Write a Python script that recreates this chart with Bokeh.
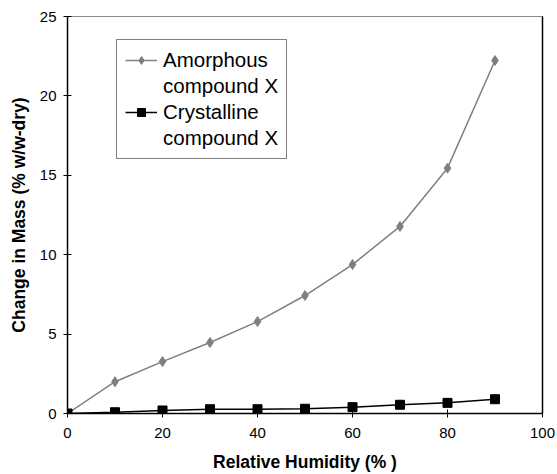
from bokeh.plotting import figure
from bokeh.models import Range1d, LinearAxis, FixedTicker, Legend, LegendItem
from bokeh.embed import file_html
from bokeh.resources import INLINE

humidity = [0, 10, 20, 30, 40, 50, 60, 70, 80, 90]
amorphous = [0.0, 2.0, 3.27, 4.47, 5.79, 7.43, 9.38, 11.78, 15.45, 22.23]
crystalline = [0.0, 0.08, 0.19, 0.27, 0.27, 0.3, 0.4, 0.55, 0.67, 0.9]
x_ticks = [0, 20, 40, 60, 80, 100]
y_ticks = [0, 5, 10, 15, 20, 25]

FONT = "Liberation Sans"

p = figure(width=557, height=474, output_backend="svg", toolbar_location=None,
           x_range=Range1d(0, 100), y_range=Range1d(0, 25))
p.min_border_left = 67
p.min_border_right = 15
p.min_border_top = 16
p.min_border_bottom = 61
p.background_fill_color = "white"
p.border_fill_color = "white"
p.outline_line_color = "#8c8c8c"
p.outline_line_width = 1
p.xgrid.visible = False
p.ygrid.visible = False

for ax in (p.xaxis[0], p.yaxis[0]):
    ax.axis_line_color = "black"
    ax.axis_line_width = 1.5
    ax.major_tick_line_color = "black"
    ax.major_tick_in = 4
    ax.major_tick_out = 4
    ax.minor_tick_line_color = None
    ax.major_label_text_font = FONT
    ax.major_label_text_font_size = "15px"
    ax.major_label_text_color = "black"
    ax.axis_label_text_font = FONT
    ax.axis_label_text_font_size = "17.5px"
    ax.axis_label_text_font_style = "bold"
    ax.axis_label_text_color = "black"

p.xaxis.ticker = FixedTicker(ticks=x_ticks)
p.yaxis.ticker = FixedTicker(ticks=y_ticks)
p.xaxis.axis_label = "Relative Humidity (% )"
p.yaxis.axis_label = "Change in Mass (% w/w-dry)"
p.xaxis.major_label_standoff = 10
p.yaxis.major_label_standoff = 7
p.xaxis.axis_label_standoff = 11
p.yaxis.axis_label_standoff = 8

right = LinearAxis(ticker=FixedTicker(ticks=[]), axis_line_color="black", axis_line_width=1.5,
                   major_tick_line_color=None, minor_tick_line_color=None,
                   major_label_text_font_size="0px")
p.add_layout(right, "right")

l1 = p.line(humidity, amorphous, line_color="#7f7f7f", line_width=1.5)
m1 = p.scatter(humidity, amorphous, marker="diamond", size=10, fill_color="#7f7f7f",
               line_color="#7f7f7f")
l2 = p.line(humidity, crystalline, line_color="black", line_width=1.5)
m2 = p.scatter(humidity, crystalline, marker="square", size=9, fill_color="black",
               line_color="black")
blank = p.line(x=[], y=[], line_alpha=0)

legend = Legend(items=[
    LegendItem(label="Amorphous", renderers=[l1, m1]),
    LegendItem(label="compound X", renderers=[blank]),
    LegendItem(label="Crystalline", renderers=[l2, m2]),
    LegendItem(label="compound X", renderers=[blank]),
], location=(49, 254))
legend.label_text_font = FONT
legend.label_text_font_size = "20.5px"
legend.label_text_color = "black"
legend.label_height = 24
legend.glyph_height = 20
legend.glyph_width = 32
legend.label_standoff = 6
legend.padding = 8
legend.spacing = 2
legend.border_line_color = "black"
legend.border_line_width = 1
legend.background_fill_alpha = 1
p.add_layout(legend)

open("out.html", "w").write(file_html(p, INLINE))
